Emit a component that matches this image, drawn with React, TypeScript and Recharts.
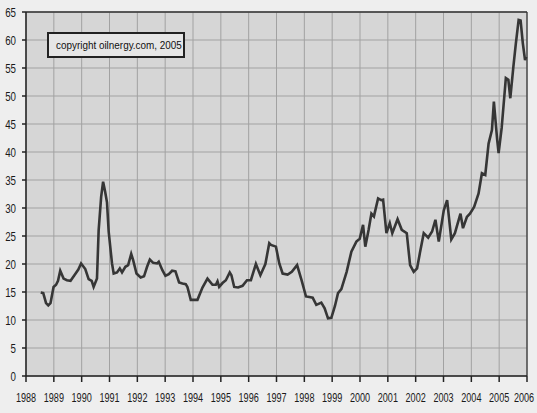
import { LineChart, Line, XAxis, YAxis, CartesianGrid, ReferenceLine } from "recharts"

// decimal years
const dates = [
  1988.53, 1988.62, 1988.72, 1988.8, 1988.88, 1988.99, 1989.08, 1989.15, 1989.23, 1989.35,
  1989.47, 1989.6, 1989.77, 1989.88, 1989.98, 1990.13, 1990.25, 1990.36, 1990.43, 1990.55,
  1990.61, 1990.7, 1990.77, 1990.84, 1990.91, 1990.97, 1991.09, 1991.15, 1991.27, 1991.37,
  1991.45, 1991.57, 1991.67, 1991.78, 1991.85, 1991.97, 1992.12, 1992.24, 1992.35, 1992.45,
  1992.57, 1992.71, 1992.77, 1992.9, 1993.01, 1993.13, 1993.25, 1993.37, 1993.5, 1993.62,
  1993.74, 1993.8, 1993.92, 1994.16, 1994.34, 1994.52, 1994.7, 1994.82, 1994.88, 1994.94,
  1995.06, 1995.18, 1995.32, 1995.38, 1995.48, 1995.62, 1995.78, 1995.94, 1996.08, 1996.26,
  1996.42, 1996.6, 1996.74, 1996.8, 1996.98, 1997.1, 1997.22, 1997.4, 1997.55, 1997.74,
  1997.9, 1998.06, 1998.18, 1998.3, 1998.43, 1998.61, 1998.73, 1998.85, 1998.97, 1999.1,
  1999.21, 1999.33, 1999.52, 1999.69, 1999.87, 1999.99, 2000.11, 2000.19, 2000.31, 2000.41,
  2000.5, 2000.65, 2000.76, 2000.83, 2000.95, 2001.07, 2001.16, 2001.35, 2001.5, 2001.68,
  2001.8, 2001.93, 2002.05, 2002.15, 2002.29, 2002.45, 2002.59, 2002.71, 2002.83, 2003.01,
  2003.13, 2003.28, 2003.41, 2003.61, 2003.7, 2003.84, 2003.95, 2004.1, 2004.26, 2004.38,
  2004.5, 2004.62, 2004.74, 2004.81, 2004.93, 2004.98, 2005.09, 2005.24, 2005.33, 2005.4,
  2005.51, 2005.6, 2005.7, 2005.77, 2005.85, 2005.93, 2005.97,
]

const prices = [
  14.9, 14.8, 13.0, 12.6, 13.0, 15.9, 16.3, 17.0, 18.8, 17.4,
  17.1, 17.0, 18.2, 19.0, 20.1, 19.1, 17.3, 17.0, 15.9, 17.4,
  26.0, 32.0, 34.7, 33.0, 31.0, 25.8, 20.1, 18.3, 18.5, 19.2,
  18.5, 19.5, 19.8, 21.8, 20.7, 18.3, 17.6, 17.8, 19.5, 20.8,
  20.2, 20.1, 20.4, 18.9, 17.9, 18.2, 18.8, 18.7, 16.7, 16.5,
  16.4, 15.9, 13.6, 13.6, 15.8, 17.4, 16.3, 16.3, 16.9, 15.9,
  16.6, 17.1, 18.5, 18.0, 15.9, 15.8, 16.1, 17.1, 17.1, 20.0,
  18.0, 20.0, 23.7, 23.4, 23.1, 20.1, 18.3, 18.1, 18.6, 19.8,
  17.1, 14.2, 14.1, 14.0, 12.7, 13.1, 12.1, 10.3, 10.4, 12.5,
  14.8, 15.5, 18.6, 22.2, 24.0, 24.5, 27.0, 23.1, 26.1, 29.0,
  28.5, 31.7, 31.4, 31.5, 25.5, 27.3, 25.5, 28.0, 26.1, 25.5,
  19.8, 18.6, 19.2, 21.9, 25.5, 24.7, 25.8, 27.9, 24.0, 29.6,
  31.4, 24.4, 25.5, 29.0, 26.4, 28.4, 29.0, 30.2, 32.6, 36.2,
  35.9, 41.5, 43.9, 49.0, 42.1, 39.8, 44.3, 53.2, 52.9, 49.6,
  55.2, 59.4, 63.6, 63.5, 59.4, 56.4, 57.0,
]

const yearTicks = [
  1988, 1989, 1990, 1991, 1992, 1993, 1994, 1995, 1996, 1997,
  1998, 1999, 2000, 2001, 2002, 2003, 2004, 2005, 2006,
]
const priceTicks = [0, 5, 10, 15, 20, 25, 30, 35, 40, 45, 50, 55, 60, 65]

const data = dates.map((d, i) => ({ t: d, price: prices[i] }))

const font = "'Liberation Sans', Arial, sans-serif"

// squeezed labels, the scan uses a condensed face
function YearTick({ x, y, payload }: any) {
  const cx = Math.min(x, 524)
  return (
    <text transform={`translate(${cx},${y + 18}) scale(0.7,1)`} textAnchor="middle"
      fontSize={13} fontFamily={font} fill="#1a1a1a">
      {payload.value}
    </text>
  )
}

function PriceTick({ x, y, payload }: any) {
  return (
    <text transform={`translate(${x - 4},${y + 4.5}) scale(0.75,1)`} textAnchor="end"
      fontSize={13} fontFamily={font} fill="#1a1a1a">
      {payload.value}
    </text>
  )
}

export default function App() {
  return (
    <div style={{ position: "absolute", left: 0, top: 0, width: 537, height: 413, background: "#eeeeee" }}>
      <LineChart width={537} height={413} data={data} margin={{ top: 12, right: 10, left: 0, bottom: 0 }}>
        <CartesianGrid stroke="#a2a2a2" fill="#d6d6d6" />
        <XAxis
          dataKey="t"
          type="number"
          domain={[1988, 2006]}
          ticks={yearTicks}
          interval={0}
          height={37}
          stroke="#222"
          strokeWidth={1.5}
          tickSize={6}
          tick={<YearTick />}
        />
        <YAxis
          type="number"
          domain={[0, 65]}
          ticks={priceTicks}
          interval={0}
          width={26}
          stroke="#222"
          strokeWidth={1.5}
          tickSize={4}
          tick={<PriceTick />}
        />
        <ReferenceLine y={65} stroke="#333" strokeWidth={1.5} />
        <ReferenceLine x={2006} stroke="#333" strokeWidth={1.2} />
        <Line
          type="linear"
          dataKey="price"
          stroke="#363636"
          strokeWidth={2.6}
          dot={false}
          isAnimationActive={false}
        />
      </LineChart>
      <div
        style={{
          position: "absolute",
          left: 47,
          top: 32,
          width: 134,
          height: 22,
          border: "2px solid #222",
          background: "#e6e6e6",
          fontFamily: font,
          fontSize: 11,
          lineHeight: "22px",
          whiteSpace: "nowrap",
          overflow: "hidden",
          textAlign: "center",
          color: "#111",
        }}
      >
        <span style={{ display: "inline-block", transform: "scaleX(0.9)" }}>copyright oilnergy.com, 2005</span>
      </div>
    </div>
  )
}
